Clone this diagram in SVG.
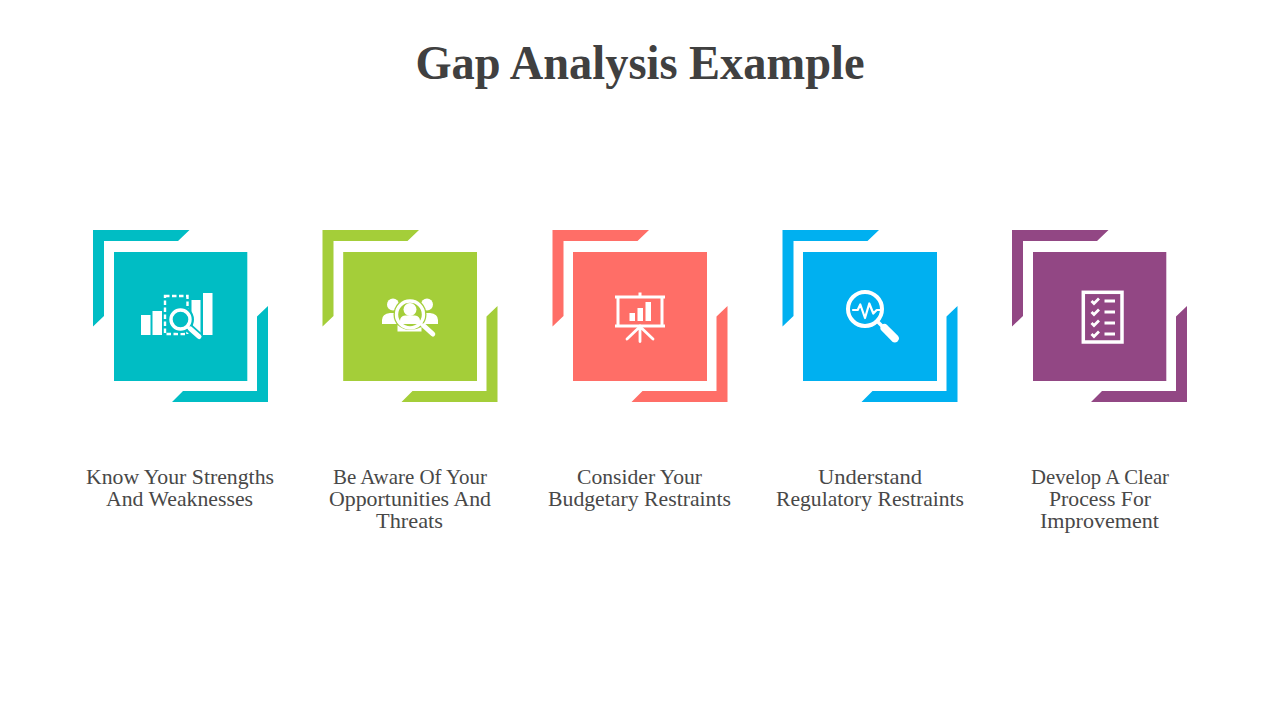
<svg xmlns="http://www.w3.org/2000/svg" width="1280" height="720" viewBox="0 0 1280 720">
<style>
.title{font-family:"Liberation Serif",serif;font-weight:700;font-size:47.500px;fill:#404040;text-anchor:middle}
.lbl{font-family:"Liberation Serif",serif;font-size:21px;fill:#484848;text-anchor:middle}
.w{fill:#fff}
.rnd{stroke-linecap:round;stroke-linejoin:round}
</style>
<defs>
<path id="frame" d="M93 230H189.500L178 241H104V316L93 326.500ZM268 402H172L183 391H257V316.500L268 306Z"/>
</defs>
<rect width="1280" height="720" fill="#fff"/>
<text class="title" x="640" y="78.500" textLength="449" lengthAdjust="spacingAndGlyphs">Gap Analysis Example</text>

<g id="node-1" fill="#00BDC4">
<use href="#frame"/>
<rect x="114" y="252" width="133.300" height="129"/>
<g id="icon-1">
<rect class="w" x="141" y="315" width="9.500" height="20"/>
<rect class="w" x="152.500" y="311" width="9.500" height="24"/>
<rect class="w" x="191.500" y="300" width="9" height="35"/>
<rect class="w" x="203" y="293" width="9.500" height="42"/>
<rect x="165" y="296" width="22.500" height="38" fill="#00BDC4" stroke="#fff" stroke-width="2.400" stroke-dasharray="4.500 2.500"/>
<circle cx="180.500" cy="319.500" r="13.500" fill="#00BDC4"/>
<path d="M188 327L199 337" stroke="#00BDC4" stroke-width="9" stroke-linecap="round"/>
<circle cx="180.500" cy="319.500" r="9.500" fill="none" stroke="#fff" stroke-width="3.400"/>
<path d="M187 326.500L190 329" stroke="#fff" stroke-width="3"/>
<path d="M190.500 329L199 336.500" stroke="#fff" stroke-width="5" stroke-linecap="round"/>
</g>
</g>
<text class="lbl" x="180" y="484" textLength="188" lengthAdjust="spacingAndGlyphs">Know Your Strengths</text>
<text class="lbl" x="179.500" y="506" textLength="147" lengthAdjust="spacingAndGlyphs">And Weaknesses</text>

<g id="node-2" fill="#A4CE39">
<use href="#frame" x="229.500"/>
<rect x="343.200" y="252" width="133.800" height="129"/>
<g id="icon-2">
<circle class="w" cx="393" cy="304.500" r="6"/>
<circle class="w" cx="427" cy="304.500" r="6"/>
<path class="w" d="M382 324V320Q382 314 390 313H396Q402 314 402 320V324ZM418 324V320Q418 314 424 313H430Q438 314 438 320V324Z"/>
<circle cx="410" cy="314.500" r="16.500" fill="#A4CE39"/>
<circle cx="410" cy="314.500" r="13.500" fill="none" stroke="#fff" stroke-width="3.400"/>
<circle class="w" cx="410" cy="309.500" r="6.500"/>
<path class="w" d="M400 324V321Q400 316 405 315.500H415Q420 316 420 321V324Z"/>
<path class="w" d="M397.500 331.500V325Q403 330 410 330Q416 330 421.500 327V331.500Z"/>
<path d="M420.500 323.500L423.500 326.500" stroke="#fff" stroke-width="3"/>
<path d="M424 326L432.800 334" stroke="#fff" stroke-width="5" stroke-linecap="round"/>
</g>
</g>
<text class="lbl" x="410" y="484" textLength="154" lengthAdjust="spacingAndGlyphs">Be Aware Of Your</text>
<text class="lbl" x="410" y="506" textLength="162" lengthAdjust="spacingAndGlyphs">Opportunities And</text>
<text class="lbl" x="409.500" y="528" textLength="67" lengthAdjust="spacingAndGlyphs">Threats</text>

<g id="node-3" fill="#FF6E67">
<use href="#frame" x="459.500"/>
<rect x="573" y="252" width="134" height="129"/>
<g id="icon-3">
<path d="M640 292.500V297M615 297H665M615 326H665M618 297V326M662 297V326" fill="none" stroke="#fff" stroke-width="3"/>
<rect class="w" x="629.500" y="313" width="5.500" height="8"/>
<rect class="w" x="637.500" y="308" width="5.500" height="13"/>
<rect class="w" x="645.500" y="302" width="5.500" height="19"/>
<path class="rnd" d="M640 326V341.500M638.500 328L627 339M641.500 328L653 339" fill="none" stroke="#fff" stroke-width="2.800"/>
</g>
</g>
<text class="lbl" x="639.500" y="484" textLength="125" lengthAdjust="spacingAndGlyphs">Consider Your</text>
<text class="lbl" x="639.500" y="506" textLength="183" lengthAdjust="spacingAndGlyphs">Budgetary Restraints</text>

<g id="node-4" fill="#00B0F0">
<use href="#frame" x="689.500"/>
<rect x="803" y="252" width="134" height="129"/>
<g id="icon-4">
<circle cx="865" cy="309" r="17" fill="none" stroke="#fff" stroke-width="4"/>
<path class="rnd" d="M853 310H857.700L860.300 304.500L865 318L869.300 303.500L873.300 313.500L876.700 310H880" fill="none" stroke="#fff" stroke-width="2.200"/>
<path d="M878 322L884 328" stroke="#fff" stroke-width="3.500"/>
<path d="M884.500 328L894.800 338.300" stroke="#fff" stroke-width="8" stroke-linecap="round"/>
</g>
</g>
<text class="lbl" x="870" y="484" textLength="104" lengthAdjust="spacingAndGlyphs">Understand</text>
<text class="lbl" x="870" y="506" textLength="188" lengthAdjust="spacingAndGlyphs">Regulatory Restraints</text>

<g id="node-5" fill="#924784">
<use href="#frame" x="919"/>
<rect x="1033" y="252" width="133.300" height="129"/>
<g id="icon-5">
<rect x="1083.300" y="292.300" width="38.700" height="49.700" fill="none" stroke="#fff" stroke-width="3.500"/>
<path d="M1104.500 301H1115M1104.500 312H1115M1104.500 323H1115M1104.500 334H1115" fill="none" stroke="#fff" stroke-width="2.800"/>
<path d="M1091.500 301L1094 303.500L1099 298.500M1091.500 312L1094 314.500L1099 309.500M1091.500 323L1094 325.500L1099 320.500M1091.500 334L1094 336.500L1099 331.500" fill="none" stroke="#fff" stroke-width="2.800"/>
</g>
</g>
<text class="lbl" x="1100" y="484" textLength="138" lengthAdjust="spacingAndGlyphs">Develop A Clear</text>
<text class="lbl" x="1100" y="506" textLength="102" lengthAdjust="spacingAndGlyphs">Process For</text>
<text class="lbl" x="1099.500" y="528" textLength="119" lengthAdjust="spacingAndGlyphs">Improvement</text>
</svg>
